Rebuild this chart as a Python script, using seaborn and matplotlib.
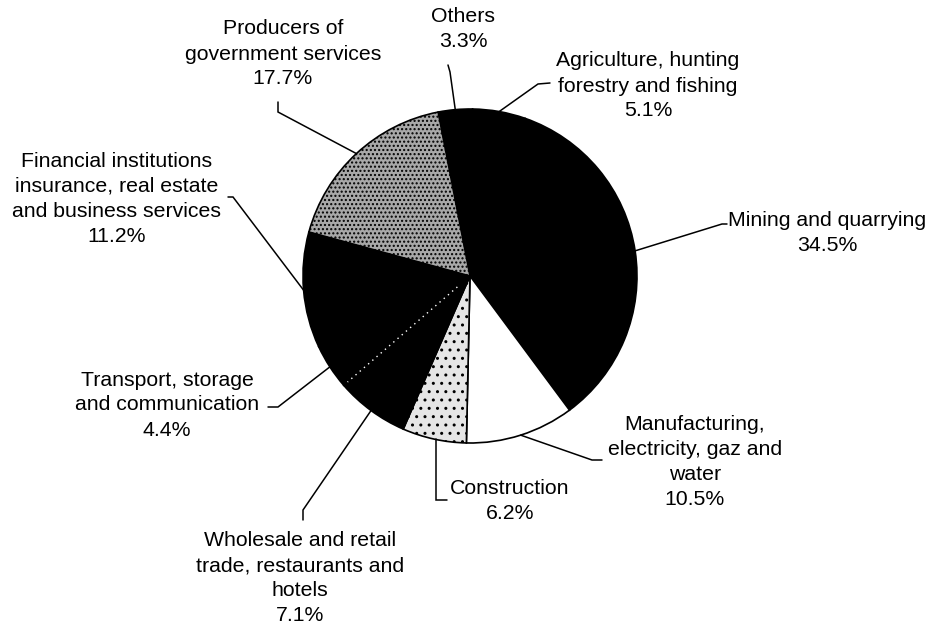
import matplotlib
matplotlib.use("Agg")
import matplotlib.pyplot as plt
import numpy as np
import seaborn as sns

# ---- data ----
sectors = [
    "Others",
    "Agriculture, hunting\nforestry and fishing",
    "Mining and quarrying",
    "Manufacturing,\nelectricity, gaz and\nwater",
    "Construction",
    "Wholesale and retail\ntrade, restaurants and\nhotels",
    "Transport, storage\nand communication",
    "Financial institutions\ninsurance, real estate\nand business services",
    "Producers of\ngovernment services",
]
shares = [3.3, 5.1, 34.5, 10.5, 6.2, 7.1, 4.4, 11.2, 17.7]
pct_labels = ["3.3%", "5.1%", "34.5%", "10.5%", "6.2%", "7.1%", "4.4%", "11.2%", "17.7%"]

# ---- style ----
sns.set_theme(style="white")
plt.rcParams["font.family"] = ["Liberation Sans", "DejaVu Sans"]

W, H = 936, 632
fig = plt.figure(figsize=(W / 100, H / 100), dpi=100)
ax = fig.add_axes([0, 0, 1, 1])
ax.set_xlim(0, W)
ax.set_ylim(0, H)
ax.set_aspect("equal")
ax.axis("off")

def P(x, y):
    """pixel (top-left origin) -> data coords"""
    return x, H - y

cx, cy = P(470, 276)
R = 167

fills = ["black", "black", "black", "white", "#e6e6e6", "black", "black", "black", "#a8a8a8"]
hatches = [None, None, None, None, "..", None, None, None, "...."]

wedges, _ = ax.pie(shares, colors=fills, startangle=101, counterclock=False,
                   center=(cx, cy), radius=R, frame=True,
                   wedgeprops=dict(edgecolor="black", linewidth=1.2))
for w, h in zip(wedges, hatches):
    if h:
        w.set_hatch(h)
ax.set_xlim(0, W)
ax.set_ylim(0, H)
ax.axis("off")

# dotted white boundary between wholesale and transport
t = np.deg2rad(wedges[6].theta2)
ax.plot([cx + 0.1 * R * np.cos(t), cx + 0.97 * R * np.cos(t)],
        [cy + 0.1 * R * np.sin(t), cy + 0.97 * R * np.sin(t)],
        color="white", lw=1, ls=(0, (1, 3)))

# label layout: text centre (pixels), and leader elbow points (pixels)
text_pos = [
    (463, 29),
    (648, 86),
    (827, 233),
    (695, 462),
    (510, 501),
    (300, 578),
    (167, 405),
    (117, 199),
    (283, 54),
]
elbows = [
    [(448, 65), (450, 72)],
    [(550, 83), (538, 84)],
    [(727, 224), (722, 224)],
    [(602, 460), (592, 460)],
    [(447, 500), (436, 500)],
    [(303, 520), (303, 510)],
    [(268, 407), (278, 407)],
    [(228, 197), (233, 197)],
    [(278, 102), (278, 112)],
]

for w, name, pct, tp, el in zip(wedges, sectors, pct_labels, text_pos, elbows):
    mid = np.deg2rad((w.theta1 + w.theta2) / 2)
    px, py = cx + R * np.cos(mid), cy + R * np.sin(mid)
    pts = [P(*e) for e in el] + [(px, py)]
    if name == "Construction":
        # bracket style: horizontal, then vertical straight down from the slice
        pts = [P(*el[0]), P(*el[1]), (P(*el[1])[0], py)]
    ax.plot([p[0] for p in pts], [p[1] for p in pts], color="black", lw=1.1,
            solid_joinstyle="miter")
    x, y = P(*tp)
    ax.text(x, y, name + "\n" + pct, ha="center", va="center",
            fontsize=15.3, linespacing=1.4, color="black")

fig.savefig("out.png", dpi=100, facecolor="white")
